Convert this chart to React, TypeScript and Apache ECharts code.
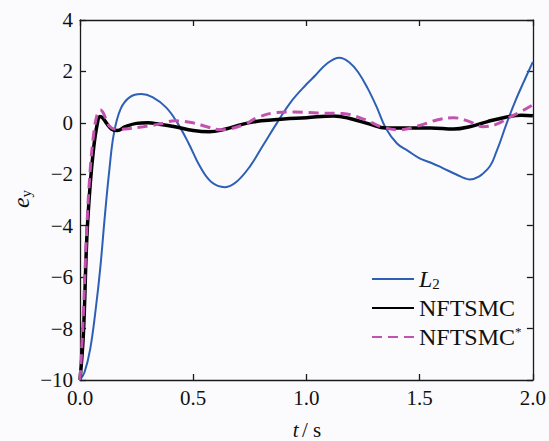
import React, { useEffect, useRef } from "react";
import * as echarts from "echarts";

const l2T = [0, 0.02, 0.045, 0.07, 0.09, 0.11, 0.13, 0.15, 0.18, 0.22, 0.27, 0.32, 0.38, 0.43, 0.48, 0.53, 0.58, 0.64, 0.69, 0.75, 0.81, 0.87, 0.93, 1.0, 1.04, 1.09, 1.145, 1.19, 1.23, 1.27, 1.31, 1.35, 1.4, 1.45, 1.5, 1.55, 1.6, 1.66, 1.72, 1.8, 1.84, 1.885, 1.925, 1.96, 2.0];
const l2V = [-10, -9.7, -8.8, -7.2, -5.6, -3.6, -1.8, -0.4, 0.55, 1.0, 1.12, 1.0, 0.6, 0.0, -0.8, -1.7, -2.3, -2.5, -2.3, -1.7, -0.85, 0.0, 0.8, 1.5, 1.85, 2.3, 2.53, 2.35, 1.95, 1.35, 0.62, -0.2, -0.8, -1.1, -1.38, -1.55, -1.75, -2.0, -2.2, -1.8, -1.1, 0.0, 0.9, 1.6, 2.37];

const nfT = [0, 0.015, 0.03, 0.045, 0.06, 0.075, 0.088, 0.1, 0.12, 0.14, 0.165, 0.2, 0.25, 0.3, 0.35, 0.42, 0.5, 0.57, 0.64, 0.72, 0.8, 0.9, 1.0, 1.12, 1.2, 1.28, 1.35, 1.45, 1.55, 1.65, 1.72, 1.8, 1.88, 1.95, 2.0];
const nfV = [-10, -8.2, -4.5, -2.4, -1.0, -0.1, 0.25, 0.2, -0.05, -0.25, -0.3, -0.15, -0.02, 0.0, -0.05, -0.15, -0.3, -0.35, -0.25, -0.05, 0.08, 0.15, 0.2, 0.27, 0.15, -0.05, -0.2, -0.2, -0.2, -0.24, -0.15, 0.05, 0.22, 0.3, 0.28];

const nfsT = [0, 0.012, 0.028, 0.042, 0.058, 0.075, 0.09, 0.105, 0.12, 0.14, 0.17, 0.22, 0.28, 0.35, 0.42, 0.5, 0.56, 0.62, 0.72, 0.79, 0.87, 0.95, 1.05, 1.16, 1.26, 1.33, 1.41, 1.5, 1.58, 1.65, 1.72, 1.78, 1.84, 1.9, 1.95, 2.0];
const nfsV = [-10, -8.0, -4.5, -2.2, -0.6, 0.3, 0.5, 0.35, 0.0, -0.2, -0.25, -0.22, -0.15, -0.05, 0.08, 0.0, -0.15, -0.27, -0.08, 0.23, 0.4, 0.42, 0.38, 0.36, 0.12, -0.15, -0.27, -0.1, 0.12, 0.2, 0.05, -0.15, -0.05, 0.23, 0.45, 0.7];

const seriesNames = ["L2", "NFTSMC", "NFTSMC*"];
const xTicks = { min: 0, max: 2, interval: 0.5 };
const yTicks = { min: -10, max: 4, interval: 2 };

const FONT = "Liberation Serif";

function pairs(t: number[], v: number[]) {
  return t.map((x, i) => [x, v[i]]);
}

export default function App() {
  const ref = useRef<HTMLDivElement>(null);
  useEffect(() => {
    if (!ref.current) return;
    const chart = echarts.init(ref.current, undefined, { renderer: "svg" });
    const axisLine = { show: true, onZero: false, lineStyle: { color: "#1a1a1a", width: 1.3 } };
    const axisTick = { inside: true, length: 6, lineStyle: { color: "#1a1a1a", width: 1.3 } };
    chart.setOption({
      animation: false,
      backgroundColor: "#fbfbfe",
      textStyle: { fontFamily: FONT },
      grid: { left: 80, right: 15, top: 20, bottom: 61 },
      xAxis: [
        {
          type: "value",
          ...xTicks,
          axisLine,
          axisTick,
          splitLine: { show: false },
          axisLabel: {
            margin: 7,
            fontFamily: FONT,
            fontSize: 21,
            color: "#111",
            formatter: (v: number) => v.toFixed(1),
          },
        },
        {
          type: "value",
          position: "top",
          ...xTicks,
          axisLine,
          axisTick,
          splitLine: { show: false },
          axisLabel: { show: false },
        },
      ],
      yAxis: [
        {
          type: "value",
          ...yTicks,
          axisLine,
          axisTick,
          splitLine: { show: false },
          axisLabel: {
            margin: 7,
            fontFamily: FONT,
            fontSize: 21,
            color: "#111",
            formatter: (v: number) => (v < 0 ? "\u2212" + Math.abs(v) : String(v)),
          },
        },
        {
          type: "value",
          position: "right",
          ...yTicks,
          axisLine,
          axisTick,
          splitLine: { show: false },
          axisLabel: { show: false },
        },
      ],
      legend: {
        orient: "vertical",
        left: 366,
        top: 262,
        itemWidth: 42,
        itemHeight: 14,
        itemGap: 5,
        itemStyle: { opacity: 0 },
        data: seriesNames,
        formatter: (name: string) =>
          name === "L2" ? "{i|L}{sub|2}" : name === "NFTSMC*" ? "{n|NFTSMC}{sup|*}" : "{n|" + name + "}",
        textStyle: {
          fontFamily: FONT,
          fontSize: 24,
          lineHeight: 24,
          color: "#111",
          rich: {
            n: { fontFamily: FONT, fontSize: 24, lineHeight: 24, color: "#111" },
            i: { fontFamily: FONT, fontSize: 24, lineHeight: 24, fontStyle: "italic", color: "#111" },
            sub: { fontFamily: FONT, fontSize: 15, lineHeight: 24, color: "#111", verticalAlign: "bottom", padding: [9, 0, 0, 0] },
            sup: { fontFamily: FONT, fontSize: 13, lineHeight: 24, color: "#111", verticalAlign: "top", padding: [0, 0, 9, 0] },
          },
        },
      },
      graphic: [
        {
          type: "text",
          x: 21,
          y: 199,
          rotation: Math.PI / 2,
          style: {
            text: "{e|e}{s|y}",
            align: "center",
            verticalAlign: "middle",
            rich: {
              e: { fontFamily: FONT, fontSize: 24, fontStyle: "italic", fill: "#111" },
              s: { fontFamily: FONT, fontSize: 15, fill: "#111", padding: [10, 0, 0, 0] },
            },
          },
        },
        {
          type: "text",
          x: 307,
          y: 419,
          style: {
            text: "{t|t} {r|/ s}",
            align: "center",
            verticalAlign: "top",
            rich: {
              t: { fontFamily: FONT, fontSize: 21, fontStyle: "italic", fill: "#111" },
              r: { fontFamily: FONT, fontSize: 21, fill: "#111" },
            },
          },
        },
      ],
      series: [
        {
          name: "L2",
          type: "line",
          data: pairs(l2T, l2V),
          smooth: 0.4,
          symbol: "none",
          lineStyle: { color: "#2d5fb5", width: 2 },
          itemStyle: { color: "#2d5fb5" },
          z: 2,
        },
        {
          name: "NFTSMC",
          type: "line",
          data: pairs(nfT, nfV),
          smooth: 0.4,
          symbol: "none",
          lineStyle: { color: "#000000", width: 3.5 },
          itemStyle: { color: "#000000" },
          z: 3,
        },
        {
          name: "NFTSMC*",
          type: "line",
          data: pairs(nfsT, nfsV),
          smooth: 0.4,
          symbol: "none",
          lineStyle: { color: "#c352ae", width: 3, type: [10, 6] },
          itemStyle: { color: "#c352ae" },
          z: 4,
        },
      ],
    });
    return () => chart.dispose();
  }, []);
  return (
    <div
      ref={ref}
      style={{ position: "fixed", left: 0, top: 0, width: 549, height: 441 }}
    />
  );
}
